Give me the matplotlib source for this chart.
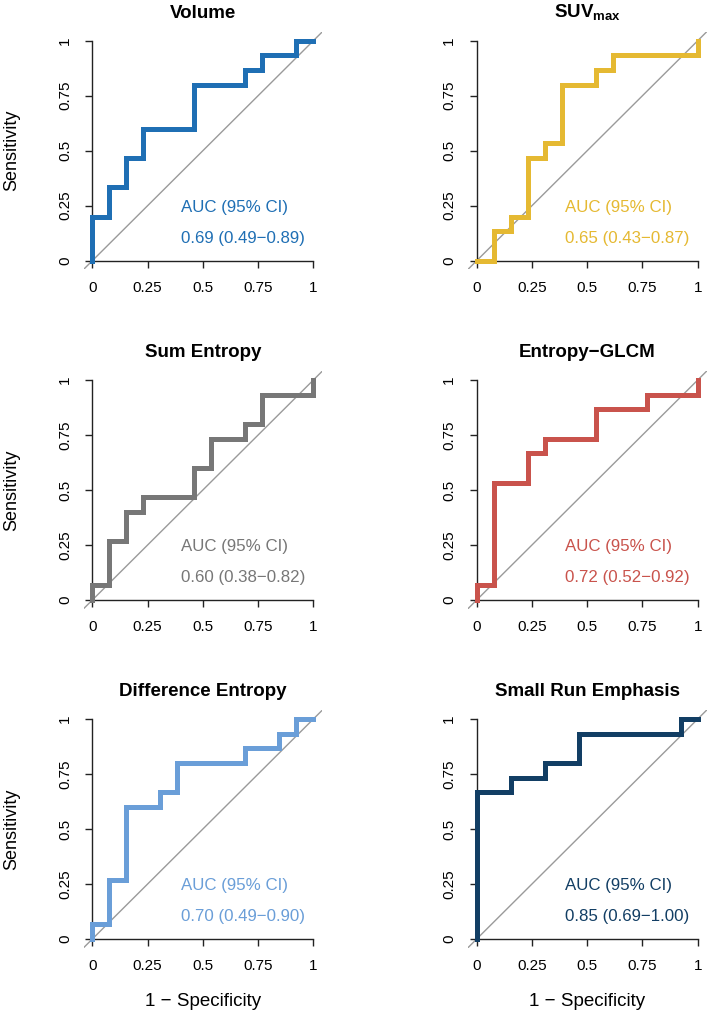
import matplotlib
matplotlib.use("Agg")
import matplotlib.pyplot as plt

plt.rcParams['font.family'] = ['Liberation Sans', 'DejaVu Sans']
plt.rcParams['mathtext.fontset'] = 'custom'
plt.rcParams['mathtext.rm'] = 'Liberation Sans'
plt.rcParams['mathtext.bf'] = 'Liberation Sans:bold'

titles = ["Volume", r"$\mathbf{SUV}_{\mathbf{max}}$", "Sum Entropy",
          "Entropy\u2212GLCM", "Difference Entropy", "Small Run Emphasis"]
colors = ["#1f6fb4", "#e5b932", "#777777", "#c9534c", "#6a9ed8", "#123e64"]
auc_texts = ["0.69 (0.49\u22120.89)", "0.65 (0.43\u22120.87)", "0.60 (0.38\u22120.82)",
             "0.72 (0.52\u22120.92)", "0.70 (0.49\u22120.90)", "0.85 (0.69\u22121.00)"]

# ROC step vertices (1 - specificity, sensitivity)
volume_fpr = [0.0, 0.0, 0.077, 0.154, 0.231, 0.462, 0.692, 0.769, 0.923, 1.0]
volume_tpr = [0.0, 0.2, 0.333, 0.467, 0.6, 0.8, 0.867, 0.933, 1.0, 1.0]
suv_fpr = [0.0, 0.077, 0.154, 0.231, 0.308, 0.385, 0.538, 0.615, 1.0]
suv_tpr = [0.0, 0.133, 0.2, 0.467, 0.533, 0.8, 0.867, 0.933, 1.0]
sument_fpr = [0.0, 0.0, 0.077, 0.154, 0.231, 0.462, 0.538, 0.692, 0.769, 1.0]
sument_tpr = [0.0, 0.067, 0.267, 0.4, 0.467, 0.6, 0.733, 0.8, 0.933, 1.0]
glcm_fpr = [0.0, 0.0, 0.077, 0.231, 0.308, 0.538, 0.769, 1.0]
glcm_tpr = [0.0, 0.067, 0.533, 0.667, 0.733, 0.867, 0.933, 1.0]
diffent_fpr = [0.0, 0.0, 0.077, 0.154, 0.308, 0.385, 0.692, 0.846, 0.923, 1.0]
diffent_tpr = [0.0, 0.067, 0.267, 0.6, 0.667, 0.8, 0.867, 0.933, 1.0, 1.0]
sre_fpr = [0.0, 0.0, 0.154, 0.308, 0.462, 0.923, 1.0]
sre_tpr = [0.0, 0.667, 0.733, 0.8, 0.933, 1.0, 1.0]

fprs = [volume_fpr, suv_fpr, sument_fpr, glcm_fpr, diffent_fpr, sre_fpr]
tprs = [volume_tpr, suv_tpr, sument_tpr, glcm_tpr, diffent_tpr, sre_tpr]

ticks = [0, 0.25, 0.5, 0.75, 1]
tick_labels = ["0", "0.25", "0.5", "0.75", "1"]

fig = plt.figure(figsize=(7.09, 10.15), dpi=100)
lefts = [0.1178, 0.6599]
bottoms = [0.7345, 0.4002, 0.0662]
w, h = 0.3367, 0.2341

for i in range(6):
    r, c = divmod(i, 2)
    ax = fig.add_axes([lefts[c], bottoms[r], w, h])
    ax.set_xlim(-0.04, 1.04)
    ax.set_ylim(-0.04, 1.04)
    ax.axline((0, 0), slope=1, color="#9a9a9a", lw=1.0, zorder=1)
    ax.plot(fprs[i], tprs[i], drawstyle="steps-post", color=colors[i], lw=3.6,
            solid_joinstyle="miter", zorder=3)
    for s in ["top", "right"]:
        ax.spines[s].set_visible(False)
    ax.spines["left"].set_position(("data", 0))
    ax.spines["bottom"].set_position(("data", 0))
    ax.spines["left"].set_bounds(0, 1)
    ax.spines["bottom"].set_bounds(0, 1)
    for s in ["left", "bottom"]:
        ax.spines[s].set_linewidth(1.0)
        ax.spines[s].set_color("#222222")
    ax.set_xticks(ticks)
    ax.set_xticklabels(tick_labels)
    ax.set_yticks(ticks)
    ax.set_yticklabels(tick_labels, rotation=90, va="center")
    ax.tick_params(length=5.2, width=1.0, pad=9.5, labelsize=11, color="#222222")
    ax.patch.set_visible(False)
    ax.set_title(titles[i], fontsize=13.5, fontweight="bold", pad=10)
    ax.text(0.40, 0.242, "AUC (95% CI)", color=colors[i], fontsize=12.2,
            ha="left", va="center")
    ax.text(0.40, 0.103, auc_texts[i], color=colors[i], fontsize=12.2,
            ha="left", va="center")
    if c == 0:
        fig.text(12 / 709, 1 - ((bottoms[r] + h / 2)) * 0 - 0, "", fontsize=1)
        fig.text(0.017, bottoms[r] + h / 2, "Sensitivity", rotation=90,
                 fontsize=13, ha="center", va="center")
    if r == 2:
        fig.text(lefts[c] + w / 2, 1 - 1001.7 / 1015, "1 \u2212 Specificity",
                 fontsize=13.5, ha="center", va="center")

fig.savefig("out.png", dpi=100)
